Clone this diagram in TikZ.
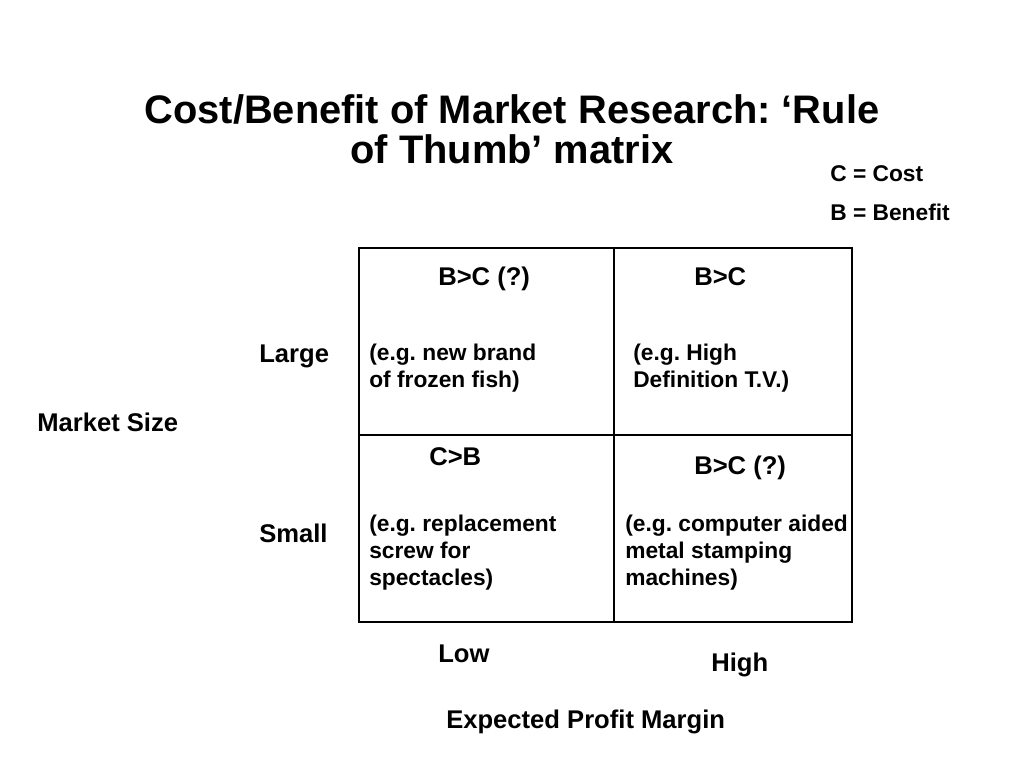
\documentclass[tikz,border=0pt]{standalone}
\usepackage{fontspec}
\setmainfont{Liberation Sans}
\usepackage{tikz}
\frenchspacing

\begin{document}
\begin{tikzpicture}[x=0.703125pt,y=-0.703125pt,inner sep=0pt]
\tikzstyle{axis label}=[anchor=base west,font=\fontsize{18}{22}\selectfont\bfseries]
\tikzstyle{cell head}=[anchor=base west,font=\fontsize{18}{22}\selectfont\bfseries]
\tikzstyle{cell text}=[anchor=north west,align=left,font=\fontsize{16}{19}\selectfont\bfseries]
\tikzstyle{key}=[anchor=base west,font=\fontsize{16}{19}\selectfont\bfseries]
\useasboundingbox (0,0) rectangle (1024,768);
% title and key
\node[anchor=north,align=center,font=\fontsize{28}{28.6}\selectfont\bfseries] (title) at (512,94) {Cost/Benefit of Market Research: ‘Rule\\of Thumb’ matrix};
\node[key] (keyC) at (830,182) {C = Cost};
\node[key] (keyB) at (830,221) {B = Benefit};
% the grid
\coordinate (NW) at (359,248);
\coordinate (SE) at (852,622);
\coordinate (Ntop) at (614,248);
\coordinate (Nbot) at (614,622);
\coordinate (Wmid) at (359,435);
\coordinate (Emid) at (852,435);
\draw[line width=1pt] (NW) rectangle (SE);
\draw[line width=1pt] (Ntop) -- (Nbot) (Wmid) -- (Emid);
% cells
\node[cell head] (hLL) at (438,286) {B>C (?)};
\node[cell text] (tLL) at (369,343.4) {(e.g. new brand\\of frozen fish)};
\node[cell head] (hHL) at (694,286) {B>C};
\node[cell text] (tHL) at (633,343.4) {(e.g. High\\Definition T.V.)};
\node[cell head] (hLS) at (429,465) {C>B};
\node[cell text] (tLS) at (369,514.4) {(e.g. replacement\\screw for\\spectacles)};
\node[cell head] (hHS) at (694,474) {B>C (?)};
\node[cell text] (tHS) at (625,514.4) {(e.g. computer aided\\metal stamping\\machines)};
% axes
\node[axis label] (large) at (259,362) {Large};
\node[axis label] (small) at (259,542) {Small};
\node[axis label] (size) at (37,431) {Market Size};
\node[axis label] (low) at (438,662) {Low};
\node[axis label] (high) at (711,671) {High};
\node[axis label] (margin) at (446,728) {Expected Profit Margin};
\end{tikzpicture}
\end{document}
